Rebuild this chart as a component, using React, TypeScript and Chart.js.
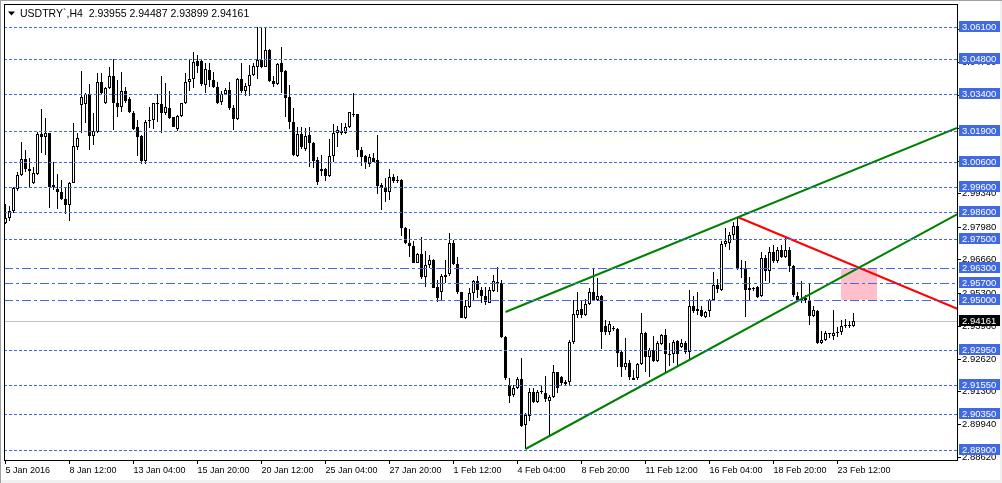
import React, { useEffect, useRef } from "react";
import { Chart, registerables } from "chart.js";

Chart.register(...registerables);

const FONT = '"Liberation Sans", Arial, sans-serif';

const titleText = "USDTRY`,H4  2.93955 2.94487 2.93899 2.94161";

const opens = [
  2.9813, 2.9833, 2.9864, 2.9951, 3.0009, 3.0073, 3.0034, 2.9976, 3.0014, 3.0176,
  3.0163, 3.0179, 2.9959, 2.9951, 2.9939, 2.9911, 2.9886, 2.9978, 3.0125, 3.0293,
  3.0296, 3.0339, 3.0168, 3.0186, 3.0386, 3.0301, 3.0362, 3.0412, 3.0304, 3.0287,
  3.0351, 3.0319, 3.0260, 3.0203, 3.0168, 3.0068, 3.0229, 3.0233, 3.0298, 3.0297,
  3.0263, 3.0281, 3.0244, 3.0195, 3.0251, 3.0301, 3.0386, 3.0399, 3.0475, 3.0472,
  3.0376, 3.0437, 3.0396, 3.0367, 3.0308, 3.0339, 3.0355, 3.0281, 3.0236, 3.0399,
  3.0349, 3.0372, 3.0416, 3.0450, 3.0477, 3.0450, 3.0518, 3.0392, 3.0378, 3.0464,
  3.0433, 3.0325, 3.0224, 3.0088, 3.0175, 3.0114, 3.0171, 3.0140, 3.0070, 3.0034,
  3.0034, 3.0003, 3.0087, 3.0179, 3.0189, 3.0179, 3.0203, 3.0256, 3.0256, 3.0111,
  3.0087, 3.0054, 3.0080, 3.0070, 2.9969, 2.9958, 2.9938, 3.0000, 2.9988, 2.9989,
  2.9793, 2.9734, 2.9722, 2.9653, 2.9687, 2.9592, 2.9641, 2.9664, 2.9555, 2.9531,
  2.9603, 2.9605, 2.9734, 2.9646, 2.9532, 2.9426, 2.9471, 2.9528, 2.9576, 2.9542,
  2.9517, 2.9490, 2.9539, 2.9569, 2.9569, 2.9349, 2.9155, 2.9112, 2.9142, 2.9180,
  2.8990, 2.9030, 2.9125, 2.9085, 2.9128, 2.9121, 2.9091, 2.9105, 2.9207, 2.9189,
  2.9165, 2.9165, 2.9329, 2.9440, 2.9463, 2.9440, 2.9483, 2.9535, 2.9501, 2.9517,
  2.9395, 2.9372, 2.9388, 2.9383, 2.9288, 2.9226, 2.9243, 2.9182, 2.9182, 2.9239,
  2.9368, 2.9268, 2.9295, 2.9254, 2.9322, 2.9359, 2.9281, 2.9280, 2.9332, 2.9311,
  2.9325, 2.9287, 2.9477, 2.9454, 2.9460, 2.9430, 2.9454, 2.9501, 2.9562, 2.9542,
  2.9727, 2.9732, 2.9763, 2.9802, 2.9630, 2.9630, 2.9548, 2.9548, 2.9553, 2.9515,
  2.9673, 2.9620, 2.9694, 2.9661, 2.9704, 2.9675, 2.9704, 2.9639, 2.9517, 2.9504,
  2.9508, 2.9501, 2.9437, 2.9456, 2.9325, 2.9338, 2.9363, 2.9355, 2.9365, 2.9370,
  2.9395, 2.9400, 2.93955,
];

const highs = [
  2.9892, 2.9881, 2.9962, 3.0023, 3.0145, 3.0111, 3.0077, 3.0043, 3.0186, 3.0277,
  3.0240, 3.0182, 3.0060, 3.0012, 2.9989, 2.9955, 2.9982, 3.0220, 3.0182, 3.0433,
  3.0342, 3.0380, 3.0260, 3.0423, 3.0426, 3.0369, 3.0450, 3.0480, 3.0396, 3.0427,
  3.0369, 3.0328, 3.0271, 3.0233, 3.0172, 3.0233, 3.0287, 3.0303, 3.0339, 3.0410,
  3.0385, 3.0349, 3.0247, 3.0254, 3.0303, 3.0423, 3.0480, 3.0511, 3.0498, 3.0480,
  3.0464, 3.0464, 3.0430, 3.0389, 3.0349, 3.0362, 3.0389, 3.0294, 3.0403, 3.0464,
  3.0382, 3.0457, 3.0464, 3.0610, 3.0610, 3.0610, 3.0520, 3.0410, 3.0464, 3.0529,
  3.0437, 3.0376, 3.0281, 3.0206, 3.0206, 3.0199, 3.0203, 3.0145, 3.0084, 3.0091,
  3.0037, 3.0156, 3.0217, 3.0209, 3.0220, 3.0220, 3.0267, 3.0342, 3.0258, 3.0125,
  3.0091, 3.0095, 3.0098, 3.0172, 2.9976, 2.9996, 3.0033, 3.0014, 3.0003, 2.9992,
  2.9797, 2.9788, 2.9742, 2.9691, 2.9755, 2.9698, 2.9684, 2.9666, 2.9582, 2.9607,
  2.9664, 2.9775, 2.9745, 2.9677, 2.9535, 2.9501, 2.9548, 2.9582, 2.9599, 2.9555,
  2.9555, 2.9555, 2.9603, 2.9634, 2.9582, 2.9352, 2.9182, 2.9155, 2.9186, 2.9264,
  2.9040, 2.9144, 2.9142, 2.9135, 2.9151, 2.9193, 2.9112, 2.9237, 2.9209, 2.9192,
  2.9173, 2.9338, 2.9501, 2.9535, 2.9501, 2.9504, 2.9548, 2.9626, 2.9589, 2.9521,
  2.9420, 2.9413, 2.9395, 2.9386, 2.9291, 2.9345, 2.9257, 2.9216, 2.9243, 2.9447,
  2.9372, 2.9304, 2.9352, 2.9332, 2.9361, 2.9383, 2.9325, 2.9338, 2.9338, 2.9341,
  2.9332, 2.9542, 2.9515, 2.9535, 2.9474, 2.9454, 2.9504, 2.9616, 2.9585, 2.9741,
  2.9793, 2.9779, 2.9816, 2.9840, 2.9664, 2.9661, 2.9596, 2.9553, 2.9558, 2.9694,
  2.9684, 2.9718, 2.9725, 2.9718, 2.9725, 2.9756, 2.9718, 2.9643, 2.9535, 2.9576,
  2.9521, 2.9566, 2.9474, 2.9460, 2.9376, 2.9376, 2.9368, 2.9460, 2.9390, 2.9420,
  2.9425, 2.9415, 2.94487,
];

const lows = [
  2.9809, 2.9820, 2.9854, 2.9946, 3.0003, 3.0023, 2.9962, 2.9973, 3.0009, 3.0098,
  3.0091, 2.9874, 2.9948, 2.9870, 2.9908, 2.9851, 2.9820, 2.9976, 3.0111, 3.0182,
  3.0220, 3.0111, 3.0132, 3.0182, 3.0339, 3.0298, 3.0358, 3.0193, 3.0244, 3.0267,
  3.0304, 3.0260, 3.0193, 3.0087, 3.0054, 3.0054, 3.0199, 3.0197, 3.0226, 3.0179,
  3.0254, 3.0236, 3.0203, 3.0190, 3.0247, 3.0298, 3.0351, 3.0362, 3.0423, 3.0373,
  3.0344, 3.0369, 3.0365, 3.0298, 3.0294, 3.0334, 3.0274, 3.0193, 3.0233, 3.0344,
  3.0331, 3.0331, 3.0410, 3.0399, 3.0443, 3.0447, 3.0389, 3.0366, 3.0374, 3.0342,
  3.0247, 3.0195, 3.0087, 3.0084, 3.0114, 3.0108, 3.0043, 3.0037, 2.9969, 3.0005,
  2.9986, 3.0000, 3.0064, 3.0125, 3.0172, 3.0176, 3.0199, 3.0247, 3.0084, 3.0046,
  3.0033, 3.0043, 3.0060, 2.9932, 2.9867, 2.9901, 2.9908, 2.9976, 2.9978, 2.9759,
  2.9729, 2.9677, 2.9651, 2.9650, 2.9585, 2.9555, 2.9630, 2.9548, 2.9494, 2.9501,
  2.9569, 2.9599, 2.9643, 2.9525, 2.9426, 2.9422, 2.9467, 2.9501, 2.9508, 2.9490,
  2.9481, 2.9487, 2.9535, 2.9535, 2.9345, 2.9176, 2.9083, 2.9105, 2.9138, 2.8984,
  2.8893, 2.9006, 2.9083, 2.9083, 2.9119, 2.9087, 2.8952, 2.9101, 2.9121, 2.9151,
  2.9151, 2.9151, 2.9322, 2.9426, 2.9426, 2.9436, 2.9481, 2.9498, 2.9498, 2.9300,
  2.9359, 2.9359, 2.9376, 2.9226, 2.9189, 2.9216, 2.9176, 2.9173, 2.9176, 2.9237,
  2.9209, 2.9189, 2.9250, 2.9250, 2.9318, 2.9205, 2.9230, 2.9243, 2.9230, 2.9304,
  2.9281, 2.9260, 2.9447, 2.9440, 2.9430, 2.9426, 2.9433, 2.9498, 2.9528, 2.9539,
  2.9718, 2.9702, 2.9745, 2.9623, 2.9589, 2.9430, 2.9501, 2.9539, 2.9508, 2.9512,
  2.9576, 2.9569, 2.9650, 2.9650, 2.9671, 2.9671, 2.9616, 2.9512, 2.9498, 2.9487,
  2.9487, 2.9399, 2.9433, 2.9322, 2.9322, 2.9332, 2.9345, 2.9338, 2.9350, 2.9360,
  2.9385, 2.9385, 2.93899,
];

const closes = [
  2.9833, 2.9863, 2.9955, 3.0009, 3.0073, 3.0033, 3.0027, 3.0016, 3.0176, 3.0163,
  3.0179, 2.9962, 2.9969, 2.9938, 2.9911, 2.9885, 2.9976, 3.0128, 3.0159, 3.0325,
  3.0339, 3.0168, 3.0189, 3.0386, 3.0342, 3.0362, 3.0412, 3.0301, 3.0287, 3.0349,
  3.0311, 3.0266, 3.0197, 3.0165, 3.0068, 3.0226, 3.0233, 3.0301, 3.0301, 3.0263,
  3.0285, 3.0240, 3.0206, 3.0251, 3.0301, 3.0386, 3.0399, 3.0469, 3.0454, 3.0378,
  3.0439, 3.0396, 3.0369, 3.0304, 3.0339, 3.0355, 3.0281, 3.0236, 3.0399, 3.0349,
  3.0372, 3.0416, 3.0453, 3.0477, 3.0450, 3.0518, 3.0393, 3.0380, 3.0460, 3.0430,
  3.0324, 3.0226, 3.0091, 3.0175, 3.0125, 3.0168, 3.0138, 3.0068, 2.9982, 3.0026,
  3.0003, 3.0087, 3.0179, 3.0193, 3.0179, 3.0203, 3.0264, 3.0254, 3.0111, 3.0084,
  3.0064, 3.0084, 3.0064, 2.9966, 2.9955, 2.9938, 3.0000, 2.9986, 2.9986, 2.9793,
  2.9732, 2.9722, 2.9653, 2.9687, 2.9592, 2.9643, 2.9664, 2.9551, 2.9510, 2.9599,
  2.9596, 2.9734, 2.9646, 2.9531, 2.9429, 2.9474, 2.9528, 2.9576, 2.9542, 2.9515,
  2.9494, 2.9542, 2.9576, 2.9572, 2.9349, 2.9182, 2.9110, 2.9144, 2.9180, 2.8986,
  2.9033, 2.9125, 2.9085, 2.9128, 2.9124, 2.9097, 2.9105, 2.9207, 2.9142, 2.9162,
  2.9159, 2.9329, 2.9443, 2.9460, 2.9440, 2.9485, 2.9535, 2.9501, 2.9515, 2.9372,
  2.9372, 2.9403, 2.9383, 2.9284, 2.9226, 2.9243, 2.9189, 2.9176, 2.9239, 2.9365,
  2.9268, 2.9295, 2.9254, 2.9325, 2.9359, 2.9280, 2.9277, 2.9329, 2.9280, 2.9327,
  2.9287, 2.9474, 2.9454, 2.9463, 2.9436, 2.9451, 2.9501, 2.9562, 2.9544, 2.9727,
  2.9741, 2.9765, 2.9802, 2.9626, 2.9626, 2.9542, 2.9542, 2.9544, 2.9512, 2.9671,
  2.9620, 2.9694, 2.9660, 2.9702, 2.9675, 2.9704, 2.9637, 2.9519, 2.9501, 2.9501,
  2.9501, 2.9437, 2.9458, 2.9325, 2.9338, 2.9368, 2.9365, 2.9365, 2.9370, 2.9395,
  2.9400, 2.93955, 2.94161,
];

const xTickBars = [0, 16, 32, 48, 64, 80, 96, 112, 128, 144, 160, 176, 192, 208];
const xTickLabels = [
  "5 Jan 2016", "8 Jan 12:00", "13 Jan 04:00", "15 Jan 20:00", "20 Jan 12:00",
  "25 Jan 04:00", "27 Jan 20:00", "1 Feb 12:00", "4 Feb 04:00", "8 Feb 20:00",
  "11 Feb 12:00", "16 Feb 04:00", "18 Feb 20:00", "23 Feb 12:00",
];
const yTickValues = [
  2.8862, 2.8994, 2.913, 2.9262, 2.9396, 2.953, 2.9666, 2.9798, 2.9934, 3.0068,
  3.0202, 3.0336, 3.047, 3.0604,
];

const dottedLevels = [3.061, 3.048, 3.034, 3.019, 3.006, 2.996, 2.986, 2.975, 2.9295, 2.9155, 2.9035, 2.889];
const dashDotLevels = [2.963, 2.957, 2.95];
const bidPrice = 2.94161;

const upperChannelX = [125, 237.875];
const upperChannelY = [2.9453, 3.0199];
const lowerChannelX = [130, 238.05];
const lowerChannelY = [2.8893, 2.9849];
const resistanceX = [183, 238.05];
const resistanceY = [2.984, 2.9462];

const zoneX = [208.9, 217.8];
const zoneY = [2.963, 2.95];

const X_MIN = -0.375;
const X_MAX = 237.875;
const Y_MIN = 2.88493;
const Y_MAX = 3.07009;

const BLUE = "rgb(65,105,225)";

export default function App() {
  const ref = useRef<HTMLCanvasElement>(null);

  useEffect(() => {
    document.body.style.margin = "0";
    const canvas = ref.current!;
    const bodyColors = closes.map((c, i) => (c > opens[i] ? "#ffffff" : "#000000"));

    const overlay = {
      id: "mtOverlay",
      beforeDraw(chart: any) {
        const { ctx, width, height } = chart;
        ctx.save();
        ctx.fillStyle = "#ffffff";
        ctx.fillRect(0, 0, width, height);
        ctx.fillStyle = "#f0f0f0";
        ctx.fillRect(0, height - 3, width, 3);
        ctx.fillRect(width - 2, 0, 2, height);
        ctx.fillStyle = "#a0a0a0";
        ctx.fillRect(0, 0, width, 1);
        ctx.fillRect(0, 0, 1, height);
        ctx.restore();
      },
      beforeDatasetsDraw(chart: any) {
        const { ctx, chartArea, scales } = chart;
        const xs = scales.x;
        const ys = scales.y;
        ctx.save();
        ctx.beginPath();
        ctx.rect(chartArea.left, chartArea.top, chartArea.right - chartArea.left, chartArea.bottom - chartArea.top);
        ctx.clip();
        const x1 = Math.round(xs.getPixelForValue(zoneX[0]));
        const x2 = Math.round(xs.getPixelForValue(zoneX[1]));
        const y1 = ys.getPixelForValue(zoneY[0]);
        const y2 = ys.getPixelForValue(zoneY[1]);
        ctx.fillStyle = "#ffc0cb";
        ctx.fillRect(x1, y1, x2 - x1, y2 - y1);
        const by = Math.floor(ys.getPixelForValue(bidPrice)) + 0.5;
        ctx.strokeStyle = "#c0c0c0";
        ctx.lineWidth = 1;
        ctx.beginPath();
        ctx.moveTo(chartArea.left, by);
        ctx.lineTo(chartArea.right, by);
        ctx.stroke();
        ctx.restore();
      },
      afterDatasetsDraw(chart: any) {
        const { ctx, chartArea, scales } = chart;
        const ys = scales.y;
        ctx.save();
        ctx.strokeStyle = BLUE;
        ctx.lineWidth = 1;
        const drawLevel = (p: number, dash: number[]) => {
          const y = Math.floor(ys.getPixelForValue(p)) + 0.5;
          ctx.setLineDash(dash);
          ctx.beginPath();
          ctx.moveTo(chartArea.left, y);
          ctx.lineTo(chartArea.right, y);
          ctx.stroke();
        };
        dottedLevels.forEach((p) => drawLevel(p, [3, 2]));
        dashDotLevels.forEach((p) => drawLevel(p, [9, 3, 3, 3]));
        ctx.setLineDash([]);
        ctx.strokeStyle = "#000000";
        ctx.strokeRect(4.5, 4.5, chartArea.right - 4, chartArea.bottom - 4);
        ctx.restore();
      },
      afterDraw(chart: any) {
        const { ctx, chartArea, scales } = chart;
        const ys = scales.y;
        ctx.save();
        ctx.font = `9.5px ${FONT}`;
        ctx.textAlign = "left";
        ctx.textBaseline = "alphabetic";
        const tag = (p: number, bg: string) => {
          const y = Math.floor(ys.getPixelForValue(p));
          ctx.fillStyle = bg;
          ctx.fillRect(chartArea.right + 2, y - 6, 41, 11);
          ctx.fillStyle = "#ffffff";
          ctx.fillText(p.toFixed(5), chartArea.right + 5, y + 3);
        };
        [...dottedLevels, ...dashDotLevels].forEach((p) => tag(p, BLUE));
        tag(bidPrice, "#000000");
        // title
        ctx.fillStyle = "#000000";
        ctx.beginPath();
        ctx.moveTo(8, 11.5);
        ctx.lineTo(15, 11.5);
        ctx.lineTo(11.5, 15.5);
        ctx.closePath();
        ctx.fill();
        ctx.font = `10.5px ${FONT}`;
        ctx.fillText(titleText, 20, 16.5);
        ctx.restore();
      },
    };

    const chart = new Chart(canvas, {
      type: "bar",
      data: {
        datasets: [
          {
            type: "line",
            data: upperChannelX.map((x, i) => ({ x, y: upperChannelY[i] })),
            borderColor: "#008000",
            borderWidth: 2,
            pointRadius: 0,
            order: 0,
          } as any,
          {
            type: "line",
            data: lowerChannelX.map((x, i) => ({ x, y: lowerChannelY[i] })),
            borderColor: "#008000",
            borderWidth: 2,
            pointRadius: 0,
            order: 0,
          } as any,
          {
            type: "line",
            data: resistanceX.map((x, i) => ({ x, y: resistanceY[i] })),
            borderColor: "#ff0000",
            borderWidth: 2,
            pointRadius: 0,
            order: 0,
          } as any,
          {
            type: "bar",
            data: opens.map((o, i) => ({ x: i, y: [o, closes[i]] })),
            backgroundColor: bodyColors,
            borderColor: "#000000",
            borderWidth: 1,
            borderSkipped: false,
            barThickness: 3,
            minBarLength: 1,
            grouped: false,
            inflateAmount: 0,
            order: 1,
          } as any,
          {
            type: "bar",
            data: lows.map((l, i) => ({ x: i, y: [l, highs[i]] })),
            backgroundColor: "#000000",
            borderWidth: 0,
            barThickness: 1,
            grouped: false,
            inflateAmount: 0,
            order: 2,
          } as any,
        ],
      },
      options: {
        animation: false,
        responsive: false,
        events: [],
        layout: { padding: { left: 4, top: 5, right: 0, bottom: 0 } },
        plugins: { legend: { display: false }, tooltip: { enabled: false } },
        scales: {
          x: {
            type: "linear",
            min: X_MIN,
            max: X_MAX,
            offset: false,
            bounds: "data",
            afterBuildTicks: (s: any) => {
              s.ticks = xTickBars.map((v) => ({ value: v }));
            },
            afterFit: (s: any) => {
              s.height = 23;
              s.paddingLeft = 0;
              s.paddingRight = 0;
            },
            grid: { drawOnChartArea: false, drawTicks: true, tickLength: 4, color: "#000000", offset: false },
            border: { display: false },
            ticks: {
              callback: (_v: any, i: number) => xTickLabels[i] ?? "",
              align: "start",
              maxRotation: 0,
              autoSkip: false,
              padding: 1,
              color: "#000000",
              font: { family: FONT, size: 9 },
            },
          },
          y: {
            type: "linear",
            position: "right",
            min: Y_MIN,
            max: Y_MAX,
            bounds: "data",
            alignToPixels: true,
            afterBuildTicks: (s: any) => {
              s.ticks = yTickValues.map((v) => ({ value: v }));
            },
            afterFit: (s: any) => {
              s.width = 45;
              s.paddingTop = 0;
              s.paddingBottom = 0;
            },
            grid: { drawOnChartArea: false, drawTicks: true, tickLength: 4, color: "#000000" },
            border: { display: false },
            ticks: {
              callback: (v: any) => Number(v).toFixed(5),
              autoSkip: false,
              padding: 1,
              crossAlign: "near",
              color: "#000000",
              font: { family: FONT, size: 9.5 },
            },
          },
        },
      } as any,
      plugins: [overlay],
    });

    return () => chart.destroy();
  }, []);

  return <canvas ref={ref} width={1002} height={483} style={{ display: "block" }} />;
}
